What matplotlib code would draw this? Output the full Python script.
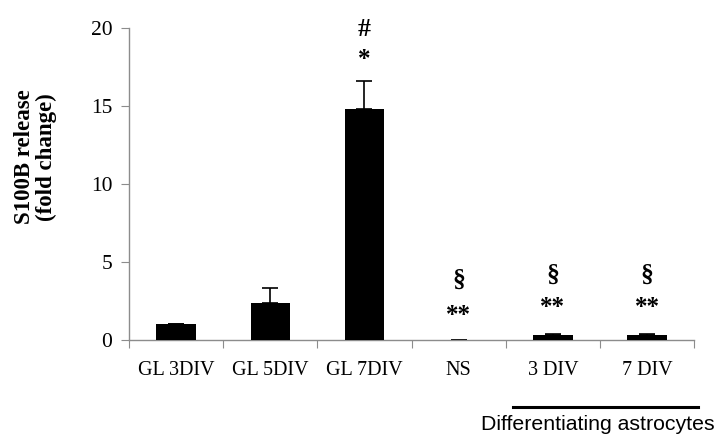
# S100B release: barras con error y marcas de significancia
import numpy as np
import matplotlib.pyplot as plt

# %% Datos
categorias = ['GL 3DIV', 'GL 5DIV', 'GL 7DIV', 'NS', '3 DIV', '7 DIV']
valores = [1.0, 2.35, 14.8, 0.03, 0.33, 0.32]
errores = [0.0, 1.0, 1.8, 0.0, 0.06, 0.04]
marca_sup = ['', '', '#', '§', '§', '§']
marca_inf = ['', '', '*', '**', '**', '**']
y_sup = [None, None, 19.9, 3.8, 4.15, 4.15]
y_inf = [None, None, 18.0, 1.6, 2.1, 2.1]

gris = '#8c8c8c'
serif = ['Liberation Serif', 'DejaVu Serif']

# %% Figura
fig = plt.figure(figsize=(7.17, 4.37), dpi=100)
ax = fig.add_axes([0.18, 0.222, 0.788, 0.714])

x = np.arange(len(categorias))
ax.bar(x, valores, width=0.42, color='black', zorder=3)
ax.errorbar(x, valores, yerr=[np.zeros(len(errores)), errores], fmt='none',
            ecolor='black', elinewidth=1.2, capsize=6, capthick=1.2, zorder=2)

for xi, s, i, ys, yi in zip(x, marca_sup, marca_inf, y_sup, y_inf):
    if s:
        ax.text(xi, ys, s, ha='center', va='center', fontsize=18.5,
                fontweight='bold', family=serif)
        ax.text(xi, yi, i, ha='center', va='center', fontsize=18,
                fontweight='bold', family=serif)

ax.set_xlim(-0.5, len(categorias) - 0.5)
ax.set_ylim(0, 20)
ax.set_yticks([0, 5, 10, 15, 20])
ax.set_xticks(np.arange(-0.5, len(categorias)), labels=[])
ax.set_xticks(x, labels=categorias, minor=True)
ax.tick_params(axis='x', which='major', length=6, color=gris, direction='out')
ax.tick_params(axis='x', which='minor', length=0, pad=15)
ax.tick_params(axis='y', length=6, color=gris, direction='out', pad=6)
for lab in ax.get_xticklabels(minor=True):
    lab.set_family(serif)
    lab.set_fontsize(14.5)
for lab in ax.get_yticklabels():
    lab.set_family(serif)
    lab.set_fontsize(15.5)

for lado in ['top', 'right']:
    ax.spines[lado].set_visible(False)
for lado in ['left', 'bottom']:
    ax.spines[lado].set_color(gris)
    ax.spines[lado].set_linewidth(1.0)

ax.set_ylabel('S100B release\n(fold change)', family=serif, fontsize=16.5,
              fontweight='bold', linespacing=1.05)
ax.yaxis.set_label_coords(-0.128, 0.587)

# Línea y texto del grupo
fig.add_artist(plt.Line2D([513 / 717, 698 / 717], [1 - 407 / 437, 1 - 407 / 437],
                          color='black', linewidth=2.2))
fig.text(598 / 717, 1 - 425 / 437, 'Differentiating astrocytes', ha='center',
         va='center', fontsize=15.3, family=['Liberation Sans', 'DejaVu Sans'])

fig.savefig('out.png', dpi=100)
